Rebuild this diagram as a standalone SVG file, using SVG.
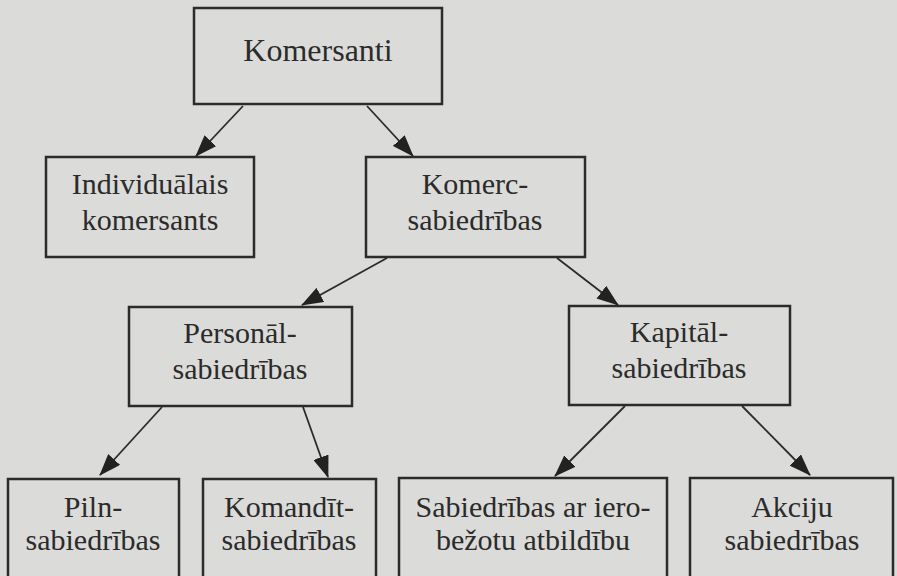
<svg xmlns="http://www.w3.org/2000/svg" width="897" height="576" viewBox="0 0 897 576">
<defs>
<style>
.box{fill:none;stroke:#2b2b2b;stroke-width:2.5}
.t{font-family:"Liberation Serif","Times New Roman",serif;font-size:30px;fill:#2b2b2b;text-anchor:middle}
.c{stroke:#2b2b2b;stroke-width:1.8;fill:none;marker-end:url(#ah)}
</style>
<marker id="ah" viewBox="0 0 22 16" refX="21" refY="8" markerWidth="22" markerHeight="16" markerUnits="userSpaceOnUse" orient="auto">
<path d="M0,0 L22,8 L0,16 Z" fill="#222"/>
</marker>
</defs>
<rect width="897" height="576" fill="#dbdbd9"/>
<g id="connectors">
<line class="c" x1="243" y1="106" x2="196" y2="156"/>
<line class="c" x1="367" y1="106" x2="413" y2="156"/>
<line class="c" x1="387" y1="258" x2="302" y2="305"/>
<line class="c" x1="557" y1="258" x2="618" y2="305"/>
<line class="c" x1="162" y1="407" x2="100" y2="475"/>
<line class="c" x1="303" y1="407" x2="328" y2="477"/>
<line class="c" x1="625" y1="406" x2="555" y2="476"/>
<line class="c" x1="742" y1="406" x2="810" y2="475"/>
</g>
<g id="komersanti">
<rect class="box" x="194" y="8" width="248" height="96"/>
<text class="t" x="318" y="61" style="font-size:32px">Komersanti</text>
</g>
<g id="individualais">
<rect class="box" x="46" y="157" width="208" height="100"/>
<text class="t" x="150" y="194">Individuālais</text>
<text class="t" x="150" y="230">komersants</text>
</g>
<g id="komercsabiedribas">
<rect class="box" x="366" y="157" width="219" height="100"/>
<text class="t" x="475" y="194">Komerc-</text>
<text class="t" x="475" y="230">sabiedrības</text>
</g>
<g id="personalsabiedribas">
<rect class="box" x="129" y="307" width="223" height="99"/>
<text class="t" x="240" y="343">Personāl-</text>
<text class="t" x="240" y="379">sabiedrības</text>
</g>
<g id="kapitalsabiedribas">
<rect class="box" x="569" y="306" width="221" height="99"/>
<text class="t" x="679" y="342">Kapitāl-</text>
<text class="t" x="679" y="378">sabiedrības</text>
</g>
<g id="pilnsabiedribas">
<rect class="box" x="8" y="479" width="171" height="110"/>
<text class="t" x="93" y="517">Piln-</text>
<text class="t" x="93" y="550">sabiedrības</text>
</g>
<g id="komanditsabiedribas">
<rect class="box" x="203" y="479" width="173" height="110"/>
<text class="t" x="289" y="517">Komandīt-</text>
<text class="t" x="289" y="550">sabiedrības</text>
</g>
<g id="sia">
<rect class="box" x="399" y="478" width="268" height="110"/>
<text class="t" x="533" y="517">Sabiedrības ar iero-</text>
<text class="t" x="533" y="550">bežotu atbildību</text>
</g>
<g id="akciju">
<rect class="box" x="690" y="478" width="203" height="110"/>
<text class="t" x="792" y="517">Akciju</text>
<text class="t" x="792" y="550">sabiedrības</text>
</g>
</svg>
